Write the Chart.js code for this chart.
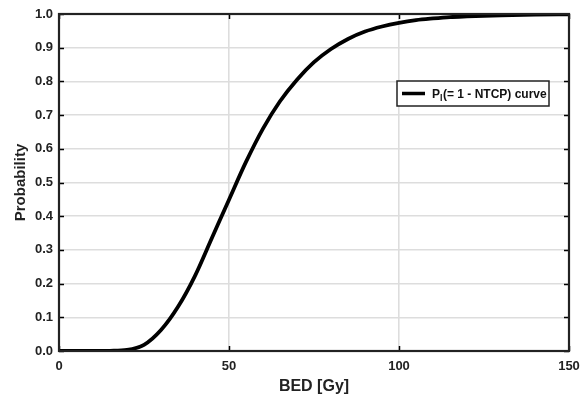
<!DOCTYPE html>
<html>
<head>
<meta charset="utf-8">
<script src="https://cdn.jsdelivr.net/npm/chart.js@4.4.0/dist/chart.umd.min.js"></script>
<style>
html,body{margin:0;padding:0;background:#fff;}
#wrap{width:581px;height:398px;}
</style>
</head>
<body>
<div id="wrap"><canvas id="c" width="581" height="398"></canvas></div>
<script>
const bed = [0, 5, 10, 15, 20, 25, 30, 35, 40, 45, 50, 55, 60, 65, 70, 75, 80, 85, 90, 95, 100, 105, 110, 115, 120, 130, 140, 150];
const prob = [0, 0, 0, 0.0005, 0.003, 0.018, 0.062, 0.131, 0.223, 0.336, 0.449, 0.561, 0.66, 0.741, 0.805, 0.857, 0.896, 0.926, 0.948, 0.963, 0.974, 0.982, 0.987, 0.991, 0.993, 0.996, 0.998, 0.999];
const xTicks = [0, 50, 100, 150];
const yTicks = [0, 0.1, 0.2, 0.3, 0.4, 0.5, 0.6, 0.7, 0.8, 0.9, 1.0];
const seriesLabel = ['P', 'l', '(= 1 - NTCP) curve'];

const FONT = 'Liberation Sans, Arial, sans-serif';

const framePlugin = {
  id: 'frame',
  afterDatasetsDraw(chart) {
    const ctx = chart.ctx, a = chart.chartArea;
    const xs = chart.scales.x, ys = chart.scales.y;
    ctx.save();
    ctx.strokeStyle = '#000';
    ctx.lineWidth = 1.5;
    const t = 5;
    ctx.beginPath();
    xTicks.forEach(v => {
      const px = Math.round(xs.getPixelForValue(v)) + 0.5;
      ctx.moveTo(px, a.bottom); ctx.lineTo(px, a.bottom - t);
      ctx.moveTo(px, a.top); ctx.lineTo(px, a.top + t);
    });
    yTicks.forEach(v => {
      const py = Math.round(ys.getPixelForValue(v)) + 0.5;
      ctx.moveTo(a.left, py); ctx.lineTo(a.left + t, py);
      ctx.moveTo(a.right, py); ctx.lineTo(a.right - t, py);
    });
    ctx.stroke();
    ctx.lineWidth = 2.2;
    ctx.strokeStyle = '#222';
    ctx.strokeRect(a.left, a.top, a.right - a.left, a.bottom - a.top);
    // legend
    const lx = 397, ly = 81, lw = 152, lh = 25;
    ctx.fillStyle = '#fff';
    ctx.fillRect(lx, ly, lw, lh);
    ctx.lineWidth = 1.5;
    ctx.strokeStyle = '#222';
    ctx.strokeRect(lx, ly, lw, lh);
    ctx.lineWidth = 3.5;
    ctx.strokeStyle = '#000';
    ctx.beginPath();
    ctx.moveTo(lx + 5, ly + lh / 2); ctx.lineTo(lx + 28, ly + lh / 2);
    ctx.stroke();
    ctx.fillStyle = '#111';
    ctx.textBaseline = 'alphabetic';
    ctx.font = 'bold 12px ' + FONT;
    let tx = lx + 35;
    const by = ly + lh / 2 + 4.5;
    ctx.fillText(seriesLabel[0], tx, by);
    tx += ctx.measureText(seriesLabel[0]).width;
    ctx.font = 'bold 9px ' + FONT;
    ctx.fillText(seriesLabel[1], tx, by + 3);
    tx += ctx.measureText(seriesLabel[1]).width + 0.5;
    ctx.font = 'bold 12px ' + FONT;
    ctx.fillText(seriesLabel[2], tx, by);
    ctx.restore();
  }
};

new Chart(document.getElementById('c'), {
  type: 'line',
  data: {
    datasets: [{
      label: seriesLabel.join(''),
      data: bed.map((b, i) => ({x: b, y: prob[i]})),
      borderColor: '#000',
      borderWidth: 3.8,
      pointRadius: 0,
      fill: false,
      cubicInterpolationMode: 'monotone'
    }]
  },
  options: {
    responsive: false,
    animation: false,
    layout: {padding: {top: 14, right: 12, left: 0, bottom: 0}},
    plugins: {legend: {display: false}, tooltip: {enabled: false}},
    scales: {
      x: {
        type: 'linear', min: 0, max: 150,
        afterBuildTicks(s) { s.ticks = xTicks.map(v => ({value: v})); },
        afterFit(s) { s.height = 47; s.paddingLeft = 0; s.paddingRight = 0; },
        grid: {color: '#dddddd', lineWidth: 1.6, drawTicks: false},
        border: {display: false},
        ticks: {color: '#222', font: {family: FONT, weight: 'bold', size: 13}, padding: 8, maxRotation: 0,
          callback: v => String(v)},
        title: {display: true, text: 'BED [Gy]', color: '#222', font: {family: FONT, weight: 'bold', size: 16}, padding: {top: 0, bottom: 2}}
      },
      y: {
        type: 'linear', min: 0, max: 1,
        afterBuildTicks(s) { s.ticks = yTicks.map(v => ({value: v})); },
        afterFit(s) { s.width = 59; s.paddingTop = 0; s.paddingBottom = 0; },
        grid: {color: '#dddddd', lineWidth: 1.6, drawTicks: false},
        border: {display: false},
        ticks: {color: '#222', font: {family: FONT, weight: 'bold', size: 13}, padding: 6,
          callback: v => Number(v).toFixed(1)},
        title: {display: true, text: 'Probability', color: '#222', font: {family: FONT, weight: 'bold', size: 15}, padding: {top: 12, bottom: 0}}
      }
    }
  },
  plugins: [framePlugin]
});
</script>
</body>
</html>
